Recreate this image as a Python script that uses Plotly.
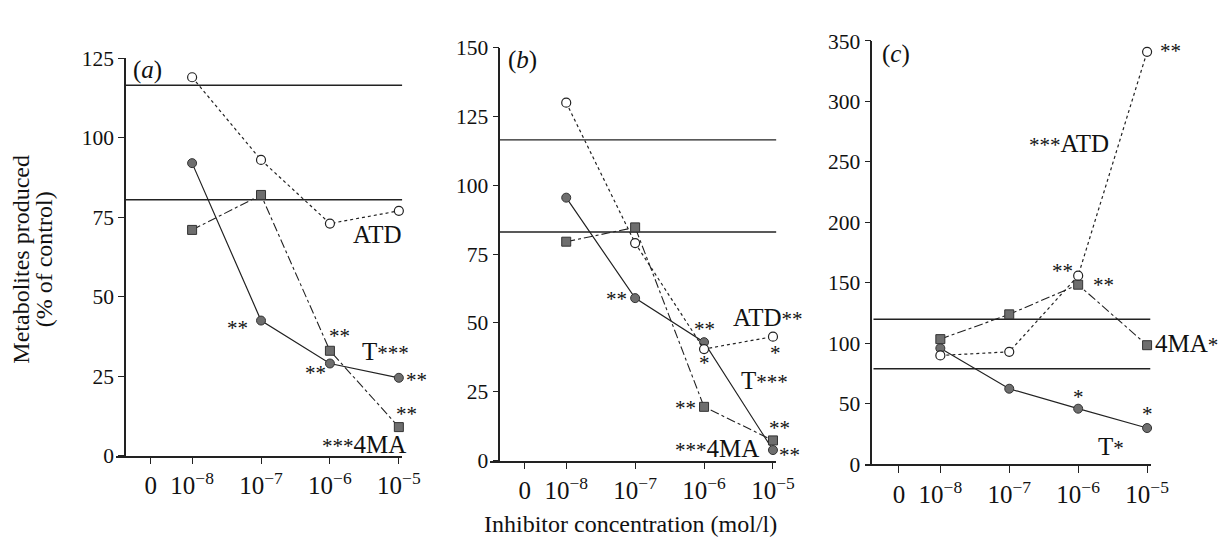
import re
import plotly.graph_objects as go

# ---------------- data ----------------
x_labels = ["0", "10<sup>−8</sup>", "10<sup>−7</sup>", "10<sup>−6</sup>", "10<sup>−5</sup>"]
x_tickpos = [0.4, 1, 2, 3, 4]
conc_pos = [1, 2, 3, 4]  # 10^-8 .. 10^-5

# panel (a)
a_ATD = [119, 93, 73, 77]
a_T = [92, 42.5, 29, 24.5]
a_4MA = [71, 82, 33, 9]
a_band = [116.5, 80.5]

# panel (b)
b_ATD = [130, 79, 40.5, 45]
b_T = [95.5, 59, 43, 3.8]
b_4MA = [79.5, 84.7, 19.5, 7.3]
b_band = [116.5, 83]

# panel (c)
c_ATD = [90, 93, 156, 341]
c_T = [96, 62.5, 46, 30]
c_4MA = [103.5, 124, 148.5, 98.5]
c_band = [120, 79]

y_ranges = [[0, 125], [0, 150], [0, 350]]
y_dtick = [25, 25, 50]
panel_labels = ["(<i>a</i>)", "(<i>b</i>)", "(<i>c</i>)"]
y_title_lines = ["Metabolites produced", "(% of control)"]
x_title = "Inhibitor concentration (mol/l)"

# annotation texts per panel: (text, x, y)
notes_a = [("ATD", 3.69, 69.7), ("**", 1.66, 40.3), ("**", 3.14, 37.6), ("T***", 3.8, 32.8),
           ("**", 2.79, 26.1), ("**", 4.25, 23.7), ("**", 4.11, 13.2), ("***4MA", 3.5, 3.6)]
notes_b = [("**", 1.73, 58.7), ("ATD**", 3.93, 52.1), ("**", 3.0, 47.9), ("*", 3.0, 35.4),
           ("*", 4.03, 39.2), ("T***", 3.87, 29.2), ("**", 2.73, 19.1), ("**", 4.09, 11.8),
           ("***4MA", 3.19, 4.2), ("**", 4.23, 2.1)]
notes_c = [("**", 4.33, 342), ("***ATD", 2.87, 265), ("**", 2.77, 160), ("**", 3.37, 148.5),
           ("4MA*", 4.57, 99.5), ("*", 3.01, 56), ("*", 4.01, 42), ("T*", 3.47, 15)]

# ---------------- layout geometry ----------------
W, H = 1227, 541
FONT = "Liberation Serif"
PX_PER_UNIT = 70
x_domains = [[110 / W, 400.5 / W], [490 / W, 780.5 / W], [870 / W, 1160.5 / W]]
y_domains = [[1 - 457 / H, 1 - 41 / H], [1 - 462 / H, 1 - 30 / H], [1 - 466 / H, 1 - 23 / H]]
yaxis_pos = [119 / W, 499 / W, 877 / W]
x_range = [-0.1, 4.05]
band_x = [0.03, 4.05]


def styled(txt):
    # letters are set larger than the significance asterisks
    return re.sub(r"([A-Za-z0-9]+)", r"<span style='font-size:25px'>\1</span>", txt)


fig = go.Figure()

panels = [
    (a_ATD, a_T, a_4MA, a_band, notes_a),
    (b_ATD, b_T, b_4MA, b_band, notes_b),
    (c_ATD, c_T, c_4MA, c_band, notes_c),
]

grey = "#6e6e6e"
for i, (atd, t, ma, band, notes) in enumerate(panels):
    xa = "x" if i == 0 else f"x{i+1}"
    ya = "y" if i == 0 else f"y{i+1}"
    for b in band:
        fig.add_trace(go.Scatter(x=band_x, y=[b, b], mode="lines", xaxis=xa, yaxis=ya,
                                 line=dict(color="#222", width=1.4), showlegend=False, hoverinfo="skip"))
    fig.add_trace(go.Scatter(x=conc_pos, y=t, mode="lines+markers", xaxis=xa, yaxis=ya,
                             line=dict(color="#222", width=1.2),
                             marker=dict(symbol="circle", size=9, color=grey, line=dict(color="#333", width=1)),
                             showlegend=False, cliponaxis=False))
    fig.add_trace(go.Scatter(x=conc_pos, y=ma, mode="lines+markers", xaxis=xa, yaxis=ya,
                             line=dict(color="#222", width=1.1, dash="dashdot"),
                             marker=dict(symbol="square", size=9, color=grey, line=dict(color="#333", width=1)),
                             showlegend=False, cliponaxis=False))
    fig.add_trace(go.Scatter(x=conc_pos, y=atd, mode="lines+markers", xaxis=xa, yaxis=ya,
                             line=dict(color="#222", width=1.2, dash="dot"),
                             marker=dict(symbol="circle", size=9, color="white", line=dict(color="#222", width=1.2)),
                             showlegend=False, cliponaxis=False))
    for txt, xx, yy in notes:
        # annotations beyond the axis range are anchored at its end and shifted in pixels
        xs = 0
        if xx > 4.0:
            xs = (xx - 4.0) * PX_PER_UNIT
            xx = 4.0
        fig.add_annotation(x=xx, y=yy, xref=xa, yref=ya, text=styled(txt), showarrow=False, xshift=xs,
                           xanchor="center", yanchor="middle",
                           font=dict(family=FONT, size=21, color="#111"))
    fig.add_annotation(x=0.36, y=y_ranges[i][1] * 0.97, xref=xa, yref=ya, text=panel_labels[i],
                       showarrow=False, xanchor="center", yanchor="middle",
                       font=dict(family=FONT, size=25, color="#111"))

    xkey = "xaxis" if i == 0 else f"xaxis{i+1}"
    ykey = "yaxis" if i == 0 else f"yaxis{i+1}"
    fig.layout[xkey] = dict(domain=x_domains[i], range=x_range, anchor=ya,
                            tickmode="array", tickvals=x_tickpos, ticktext=x_labels,
                            ticks="outside", ticklen=7, tickwidth=1.2, tickcolor="#222",
                            showline=True, linecolor="#222", linewidth=1.5,
                            showgrid=False, zeroline=False,
                            tickfont=dict(family=FONT, size=25, color="#111"))
    fig.layout[ykey] = dict(domain=y_domains[i], range=y_ranges[i], anchor="free", position=yaxis_pos[i],
                            dtick=y_dtick[i], tick0=0, ticks="outside", ticklen=6, tickwidth=1.2,
                            tickcolor="#222", showline=True, linecolor="#222", linewidth=1.5,
                            showgrid=False, zeroline=False,
                            tickfont=dict(family=FONT, size=21.5, color="#111"))

fig.add_annotation(x=632 / W, y=1 - 528 / H, xref="paper", yref="paper",
                   text=x_title, showarrow=False,
                   xanchor="center", yanchor="middle",
                   font=dict(family=FONT, size=24, color="#111"))
for k, (line_txt, px) in enumerate(zip(y_title_lines, [13, 36])):
    fig.add_annotation(x=px / W, y=1 - 251 / H, xref="paper", yref="paper",
                       text=line_txt, textangle=-90, showarrow=False,
                       xanchor="center", yanchor="middle",
                       font=dict(family=FONT, size=24, color="#111"))

fig.update_layout(width=W, height=H, margin=dict(l=0, r=0, t=0, b=0),
                  plot_bgcolor="white", paper_bgcolor="white",
                  font=dict(family=FONT, color="#111"))

fig.write_html("out.html")
